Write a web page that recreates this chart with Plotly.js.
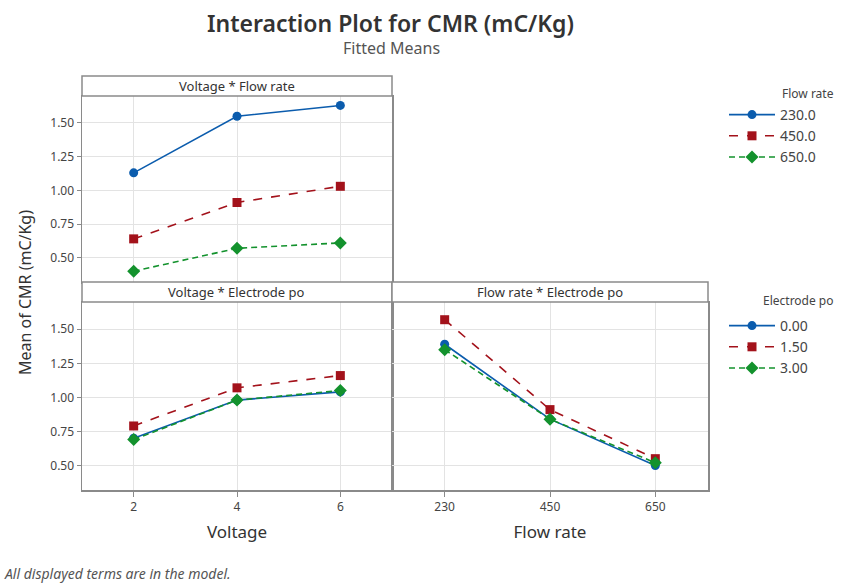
<!DOCTYPE html>
<html>
<head>
<meta charset="utf-8">
<script src="https://cdn.plot.ly/plotly-3.0.1.min.js"></script>
<style>html,body{margin:0;padding:0;background:#fff;}#chart{width:855px;height:584px;}</style>
</head>
<body>
<div id="chart"></div>
<script>
// ---- Data ----
const voltage = ['2', '4', '6'];
const flowRate = ['230', '450', '650'];
const flowLevels = ['230.0', '450.0', '650.0'];
const electrodeLevels = ['0.00', '1.50', '3.00'];

// Voltage * Flow rate (one array per flow rate level)
const vfFlow230 = [1.13, 1.55, 1.63];
const vfFlow450 = [0.64, 0.91, 1.03];
const vfFlow650 = [0.40, 0.57, 0.61];

// Voltage * Electrode po (one array per electrode level)
const veElec000 = [0.70, 0.98, 1.04];
const veElec150 = [0.79, 1.07, 1.16];
const veElec300 = [0.69, 0.98, 1.05];

// Flow rate * Electrode po
const feElec000 = [1.39, 0.84, 0.50];
const feElec150 = [1.57, 0.91, 0.55];
const feElec300 = [1.35, 0.84, 0.52];

const panelTitles = ['Voltage * Flow rate', 'Voltage * Electrode po', 'Flow rate * Electrode po'];

// ---- Styles ----
const W = 855, H = 584;
const px = v => v / W;
const py = v => 1 - v / H;
const colors = ['#0b5cad', '#a3121b', '#13922d'];
const symbols = ['circle', 'square', 'diamond'];
const dashes = ['solid', 'dash', '6px,4px'];
const msize = [9, 9, 10];
const FONT = 'Noto Sans, Open Sans, sans-serif';

function mk(x, y, i, xa, ya, name, legend, showlegend, group) {
  return {
    x: x, y: y, type: 'scatter', mode: 'lines+markers',
    xaxis: xa, yaxis: ya, name: name, legend: legend, showlegend: showlegend,
    legendgroup: group,
    line: {color: colors[i], width: 1.6, dash: dashes[i]},
    marker: {color: colors[i], symbol: symbols[i], size: msize[i]},
    hoverinfo: 'x+y+name'
  };
}

const vfSeries = [vfFlow230, vfFlow450, vfFlow650];
const veSeries = [veElec000, veElec150, veElec300];
const feSeries = [feElec000, feElec150, feElec300];

const traces = [];
vfSeries.forEach((s, i) => traces.push(mk(voltage, s, i, 'x', 'y', flowLevels[i], 'legend', true, 'f' + i)));
veSeries.forEach((s, i) => traces.push(mk(voltage, s, i, 'x2', 'y2', electrodeLevels[i], 'legend2', true, 'e' + i)));
feSeries.forEach((s, i) => traces.push(mk(flowRate, s, i, 'x3', 'y3', electrodeLevels[i], 'legend2', false, 'e' + i)));

const frameColor = '#8a8a8a';
const gridColor = '#e3e3e3';
const tickFont = {family: FONT, size: 12, color: '#444'};

function xax(domain, showLabels, title, anchor) {
  const a = {
    type: 'category', domain: domain, range: [-0.5, 2.5], anchor: anchor,
    showline: true, linecolor: frameColor, linewidth: 1.5, mirror: true,
    showgrid: true, gridcolor: gridColor, gridwidth: 1,
    ticks: showLabels ? 'outside' : '', ticklen: 5, tickcolor: frameColor,
    showticklabels: showLabels, tickfont: tickFont, zeroline: false, fixedrange: true
  };
  if (title) a.title = {text: title, font: {family: FONT, size: 17, color: '#333'}, standoff: 12};
  return a;
}
function yax(domain, showLabels, anchor) {
  return {
    domain: domain, range: [0.32, 1.70], anchor: anchor,
    tick0: 0.5, dtick: 0.25, tickformat: '.2f',
    showline: true, linecolor: frameColor, linewidth: 1.5, mirror: true,
    showgrid: true, gridcolor: gridColor, gridwidth: 1,
    ticks: showLabels ? 'outside' : '', ticklen: 4, tickcolor: frameColor,
    showticklabels: showLabels, tickfont: tickFont, zeroline: false, fixedrange: true
  };
}

const leftX = [px(82), px(392)];
const rightX = [px(392), px(708)];
const topY = [py(282), py(96)];
const botY = [py(490), py(302)];

const strips = [
  {x0: 82, x1: 392, y0: 76, y1: 96, t: panelTitles[0]},
  {x0: 82, x1: 392, y0: 282, y1: 302, t: panelTitles[1]},
  {x0: 392, x1: 708, y0: 282, y1: 302, t: panelTitles[2]}
];

const shapes = strips.map(s => ({
  type: 'rect', xref: 'paper', yref: 'paper',
  x0: px(s.x0), x1: px(s.x1), y0: py(s.y1), y1: py(s.y0),
  fillcolor: '#ffffff', line: {color: frameColor, width: 1.5}, layer: 'above'
}));

const annotations = strips.map(s => ({
  xref: 'paper', yref: 'paper', x: px((s.x0 + s.x1) / 2), y: py((s.y0 + s.y1) / 2),
  text: s.t, showarrow: false, xanchor: 'center', yanchor: 'middle',
  font: {family: FONT, size: 13, color: '#333'}
}));

annotations.push(
  {xref: 'paper', yref: 'paper', x: px(390), y: py(23), text: 'Interaction Plot for CMR (mC/Kg)',
   showarrow: false, xanchor: 'center', yanchor: 'middle',
   font: {family: FONT, size: 23, color: '#333', weight: 600}},
  {xref: 'paper', yref: 'paper', x: px(391), y: py(48), text: 'Fitted Means',
   showarrow: false, xanchor: 'center', yanchor: 'middle',
   font: {family: FONT, size: 16, color: '#555'}},
  {xref: 'paper', yref: 'paper', x: px(25), y: py(293), text: 'Mean of CMR (mC/Kg)', textangle: -90,
   showarrow: false, xanchor: 'center', yanchor: 'middle',
   font: {family: FONT, size: 16, color: '#333'}},
  {xref: 'paper', yref: 'paper', x: px(2), y: py(573), text: '<i>All displayed terms are in the model.</i>',
   showarrow: false, xanchor: 'left', yanchor: 'middle',
   font: {family: FONT, size: 14, color: '#555'}},
  {xref: 'paper', yref: 'paper', x: px(836), y: py(93), text: 'Flow rate',
   showarrow: false, xanchor: 'right', yanchor: 'middle',
   font: {family: FONT, size: 12, color: '#444'}},
  {xref: 'paper', yref: 'paper', x: px(836), y: py(300), text: 'Electrode po',
   showarrow: false, xanchor: 'right', yanchor: 'middle',
   font: {family: FONT, size: 12, color: '#444'}}
);

const legendBase = {
  xanchor: 'left', yanchor: 'top', bgcolor: 'rgba(0,0,0,0)', borderwidth: 0,
  font: {family: FONT, size: 14, color: '#444'}, itemclick: false, itemdoubleclick: false,
  tracegroupgap: 0, itemwidth: 46
};

const layout = {
  width: W, height: H, autosize: false,
  margin: {l: 0, r: 0, t: 0, b: 0},
  paper_bgcolor: '#ffffff', plot_bgcolor: '#ffffff',
  font: {family: FONT},
  xaxis: xax(leftX, false, null, 'y'),
  yaxis: yax(topY, true, 'x'),
  xaxis2: xax(leftX, true, 'Voltage', 'y2'),
  yaxis2: yax(botY, true, 'x2'),
  xaxis3: xax(rightX, true, 'Flow rate', 'y3'),
  yaxis3: yax(botY, false, 'x3'),
  legend: Object.assign({x: px(724), y: py(99)}, legendBase),
  legend2: Object.assign({x: px(724), y: py(310)}, legendBase),
  shapes: shapes,
  annotations: annotations,
  showlegend: true
};

Plotly.newPlot('chart', traces, layout, {displayModeBar: false, staticPlot: true});
</script>
</body>
</html>
